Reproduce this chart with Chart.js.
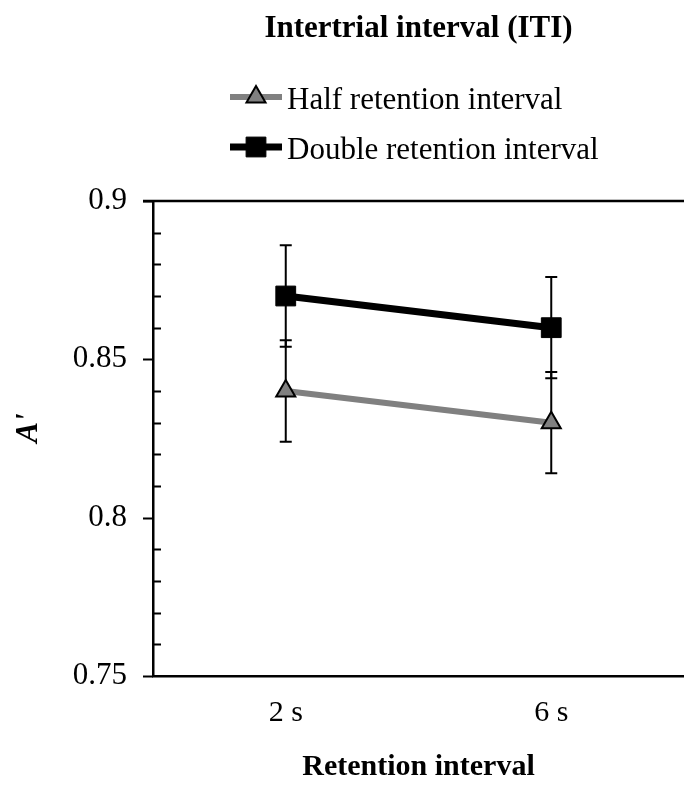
<!DOCTYPE html>
<html>
<head>
<meta charset="utf-8">
<script src="https://cdn.jsdelivr.net/npm/chart.js@4/dist/chart.umd.min.js"></script>
<style>
    body { margin: 0; background: #ffffff; overflow: hidden; }
    canvas { display: block; }
</style>
</head>
<body>
<canvas id="itiChart" width="684" height="792"></canvas>
<script>
const retentionLabels = ["2 s", "6 s"];
const halfValues = [0.84, 0.83];
const halfErrors = [0.016, 0.016];
const doubleValues = [0.87, 0.86];
const doubleErrors = [0.016, 0.016];
const yTickValues = [0.75, 0.8, 0.85, 0.9];
const yTickLabels = ["0.75", "0.8", "0.85", "0.9"];

const SERIF = "'Liberation Serif', 'Times New Roman', serif";

Chart.defaults.color = '#000000';
Chart.defaults.font.family = SERIF;

const errorsByDataset = [halfErrors, doubleErrors];

// vertical error bars with small caps, drawn under the markers
const errorBarPlugin = {
    id: 'errorBars',
    beforeDatasetsDraw(chart)
    {
        const ctx = chart.ctx;
        const yScale = chart.scales.y;
        ctx.save();
        ctx.strokeStyle = '#000000';
        ctx.lineWidth = 2;
        chart.data.datasets.forEach((dataset, d) =>
        {
            const meta = chart.getDatasetMeta(d);
            meta.data.forEach((point, i) =>
            {
                const value = dataset.data[i];
                const err = errorsByDataset[d][i];
                const top = yScale.getPixelForValue(value + err);
                const bottom = yScale.getPixelForValue(value - err);
                ctx.beginPath();
                ctx.moveTo(point.x, top);
                ctx.lineTo(point.x, bottom);
                ctx.moveTo(point.x - 6, top);
                ctx.lineTo(point.x + 6, top);
                ctx.moveTo(point.x - 6, bottom);
                ctx.lineTo(point.x + 6, bottom);
                ctx.stroke();
            });
        });
        ctx.restore();
    }
};

// y tick marks (major outside, minor inside), top frame line, titles and legend
const framePlugin = {
    id: 'frame',
    afterDraw(chart)
    {
        const ctx = chart.ctx;
        const area = chart.chartArea;
        const yScale = chart.scales.y;
        ctx.save();
        ctx.strokeStyle = '#000000';
        ctx.lineWidth = 2;
        ctx.beginPath();
        for (let k = 75; k <= 90; k++)
        {
            const py = Math.round(yScale.getPixelForValue(k / 100)) + 0.5;
            if (k % 5 == 0)
            {
                ctx.moveTo(area.left - 10, py);
                ctx.lineTo(area.left, py);
            }
            else
            {
                ctx.moveTo(area.left, py);
                ctx.lineTo(area.left + 8, py);
            }
        }
        ctx.stroke();

        ctx.lineWidth = 2.5;
        ctx.beginPath();
        ctx.moveTo(area.left - 10, area.top);
        ctx.lineTo(area.right, area.top);
        ctx.stroke();

        const centerX = (area.left + area.right) / 2;
        ctx.fillStyle = '#000000';
        ctx.font = "bold 31px " + SERIF;
        ctx.textAlign = 'center';
        ctx.textBaseline = 'alphabetic';
        ctx.fillText("Intertrial interval (ITI)", centerX, 37);

        // y axis title, a little above the middle of the axis as in the original
        ctx.save();
        ctx.translate(37, 428);
        ctx.rotate(-Math.PI / 2);
        ctx.font = "italic bold 31px " + SERIF;
        ctx.fillText("A'", 0, 0);
        ctx.restore();

        ctx.font = "31px " + SERIF;
        ctx.textAlign = 'left';
        chart.data.datasets.forEach((dataset, d) =>
        {
            const rowY = 97 + d * 50;
            ctx.strokeStyle = dataset.borderColor;
            ctx.lineWidth = dataset.borderWidth;
            ctx.beginPath();
            ctx.moveTo(230, rowY);
            ctx.lineTo(282, rowY);
            ctx.stroke();

            ctx.fillStyle = dataset.pointBackgroundColor;
            ctx.strokeStyle = dataset.pointBorderColor;
            ctx.lineWidth = dataset.pointBorderWidth;
            Chart.helpers.drawPoint(ctx, {
                pointStyle: dataset.pointStyle,
                radius: dataset.pointRadius,
                rotation: 0,
                borderWidth: dataset.pointBorderWidth
            }, 256, rowY);

            ctx.fillStyle = '#000000';
            ctx.fillText(dataset.label, 287, rowY + 12);
        });
        ctx.restore();
    }
};

new Chart(document.getElementById("itiChart"), {
    type: 'line',
    data: {
        labels: retentionLabels,
        datasets: [{
            label: "Half retention interval",
            data: halfValues,
            borderColor: '#808080',
            borderWidth: 6,
            pointStyle: 'triangle',
            pointRadius: 11,
            pointBackgroundColor: '#808080',
            pointBorderColor: '#000000',
            pointBorderWidth: 2,
            tension: 0
        }, {
            label: "Double retention interval",
            data: doubleValues,
            borderColor: '#000000',
            borderWidth: 7,
            pointStyle: 'rect',
            pointRadius: 14,
            pointBackgroundColor: '#000000',
            pointBorderColor: '#000000',
            pointBorderWidth: 1,
            tension: 0
        }]
    },
    options: {
        responsive: false,
        animation: false,
        events: [],
        layout: {
            autoPadding: false,
            padding: { top: 201, right: 0, bottom: 0, left: 0 }
        },
        plugins: {
            legend: { display: false },
            title: { display: false },
            tooltip: { enabled: false }
        },
        scales: {
            x: {
                type: 'category',
                offset: true,
                grid: { display: false, drawTicks: false },
                border: { display: true, color: '#000000', width: 2.5 },
                ticks: { font: { size: 30 }, padding: 19, color: '#000000' },
                title: {
                    display: true,
                    text: "Retention interval",
                    font: { size: 30, weight: 'bold' },
                    padding: { top: 0, bottom: 7 }
                },
                afterFit(scale)
                {
                    scale.height = 116;
                    scale.paddingLeft = 0;
                    scale.paddingRight = 0;
                }
            },
            y: {
                min: 0.75,
                max: 0.9,
                grid: { display: false, drawTicks: false },
                border: { display: true, color: '#000000', width: 2.5 },
                ticks: {
                    autoSkip: false,
                    padding: 26,
                    font: { size: 31 },
                    color: '#000000',
                    callback: (value, index) => yTickLabels[index]
                },
                afterBuildTicks(scale)
                {
                    scale.ticks = yTickValues.map(v => ({ value: v }));
                },
                title: { display: false },
                afterFit(scale)
                {
                    scale.width = 153;
                }
            }
        }
    },
    plugins: [errorBarPlugin, framePlugin]
});
</script>
</body>
</html>
